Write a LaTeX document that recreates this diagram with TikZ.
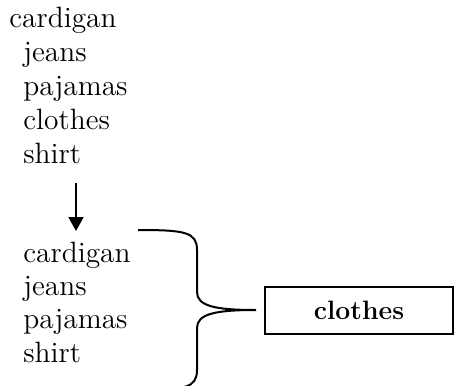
\documentclass[tikz,border=0pt]{standalone}
\usetikzlibrary{arrows.meta}
\tikzset{
  word/.style={anchor=base west,inner sep=0pt,font=\fontsize{14.7}{17}\selectfont},
  catbox/.style={draw,line width=0.75pt,minimum width=94pt,minimum height=23.5pt,inner sep=0pt,font=\fontsize{13.3}{16}\selectfont\bfseries}
}
\begin{document}
\begin{tikzpicture}[x=0.5pt,y=-0.5pt]
\useasboundingbox (0,0) rectangle (454,385);
\clip (0,0) rectangle (454,385);
% words before
\node[word] (a1) at (9,28) {cardigan};
\node[word] (a2) at (23,61.75) {jeans};
\node[word] (a3) at (23,95.5) {pajamas};
\node[word] (a4) at (23,129.25) {clothes};
\node[word] (a5) at (23,163) {shirt};

\coordinate (arrtop) at (76,183);
\coordinate (arrbot) at (76,231);
\draw[line width=1pt,-{Triangle[width=7.5pt,length=7pt]}] (arrtop) -- (arrbot);

% words after
\node[word] (b1) at (23,262) {cardigan};
\node[word] (b2) at (23,295.3) {jeans};
\node[word] (b3) at (23,328.7) {pajamas};
\node[word] (b4) at (23,362) {shirt};

\node[catbox] (cat) at (359,310.5) {clothes};

% brace
\draw[line width=1pt] (138,230) .. controls (185,230) and (197,232) .. (197,250) -- (197,292)
  .. controls (197,306) and (215,310) .. (256,310)
  .. controls (215,310) and (197,314) .. (197,328) -- (197,370)
  .. controls (197,388) and (185,390) .. (138,390);
\end{tikzpicture}
\end{document}
